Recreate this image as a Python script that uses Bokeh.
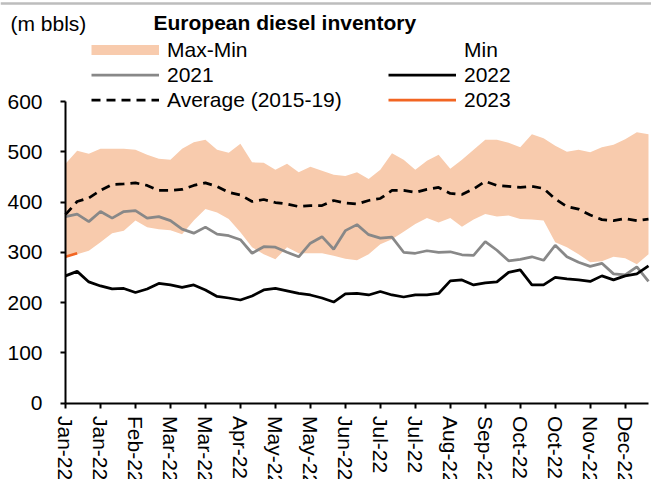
from bokeh.plotting import figure
from bokeh.models import (Range1d, FixedTicker, Legend, LegendItem, Label,
                          ColumnDataSource)
from bokeh.embed import file_html
from bokeh.resources import INLINE

# ---------------- data (weekly, 2022 calendar) ----------------
weeks = list(range(51))
tick_weeks = [0, 3, 6, 9, 12, 15, 18, 21, 24, 27, 30, 33, 36, 39, 42, 45, 48]
tick_labels = ["Jan-22", "Jan-22", "Feb-22", "Mar-22", "Mar-22", "Apr-22", "May-22",
               "May-22", "Jun-22", "Jul-22", "Jul-22", "Aug-22", "Sep-22", "Oct-22",
               "Oct-22", "Nov-22", "Dec-22"]
y_ticks = [0, 100, 200, 300, 400, 500, 600]

max_vals = [476, 502, 496, 506, 506, 506, 504, 494, 486, 484,
            506, 519, 524, 504, 498, 516, 479, 478, 464, 476,
            459, 470, 462, 454, 452, 459, 446, 464, 497, 484,
            464, 482, 494, 466, 484, 504, 524, 524, 518, 509,
            535, 527, 512, 500, 504, 499, 509, 514, 525, 539, 535]
min_vals = [293, 296, 303, 320, 338, 343, 363, 350, 346, 344,
            336, 363, 386, 379, 366, 340, 310, 296, 286, 310,
            298, 298, 298, 293, 287, 284, 296, 316, 326, 341,
            356, 368, 359, 368, 351, 365, 376, 371, 373, 366,
            365, 363, 320, 310, 296, 280, 282, 291, 288, 276, 296]
avg_vals = [375, 401, 408, 423, 435, 436, 438, 433, 423, 423,
            425, 433, 438, 431, 419, 414, 401, 405, 399, 396,
            391, 393, 393, 403, 398, 396, 403, 407, 423, 423,
            419, 425, 429, 417, 415, 426, 441, 433, 431, 429,
            431, 427, 406, 391, 386, 374, 365, 363, 367, 363, 366]
y2021 = [371, 376, 361, 381, 368, 381, 383, 368, 371, 363,
         346, 338, 350, 336, 333, 325, 298, 311, 310, 300,
         291, 318, 331, 306, 343, 355, 335, 328, 330, 300,
         298, 303, 300, 301, 295, 294, 321, 304, 283, 286,
         291, 284, 314, 291, 280, 272, 278, 257, 255, 271, 242]
y2022 = [253, 262, 241, 233, 227, 228, 220, 227, 238, 235,
         230, 235, 225, 212, 209, 205, 213, 225, 228, 223,
         218, 215, 209, 201, 217, 218, 215, 222, 215, 211,
         215, 215, 218, 243, 245, 235, 239, 241, 260, 265,
         235, 235, 250, 247, 245, 242, 253, 245, 253, 257, 273]
weeks_2023 = [0, 1]
y2023 = [291, 298]

FONT = "Liberation Sans"
BAND = "#F8CBAD"
GREY = "#888888"
ORANGE = "#F26522"
W, H = 651, 479

src = ColumnDataSource(dict(x=weeks, mx=max_vals, mn=min_vals, avg=avg_vals,
                            y21=y2021, y22=y2022))
src23 = ColumnDataSource(dict(x=weeks_2023, y=y2023))
nan = float("nan")
proxy_src = ColumnDataSource(dict(x=[nan], y=[nan]))

# frame fills the whole canvas; axes are pinned at x=0 / y=0 inside it
p = figure(width=W, height=H, output_backend="svg", toolbar_location=None,
           x_range=Range1d(-5.575, 50.257), y_range=Range1d(-152.2, 801.0),
           min_border=0, min_border_left=0, min_border_right=0,
           min_border_top=0, min_border_bottom=0)
p.outline_line_color = None
p.xgrid.visible = False
p.ygrid.visible = False
p.background_fill_color = "white"
p.border_fill_color = "white"

# thin grey rule along the top edge of the picture
p.hspan(y=[795.5], line_color="#BDBDBD", line_width=2.5)

p.varea(x="x", y1="mn", y2="mx", source=src, fill_color=BAND, fill_alpha=1.0)
r_avg = p.line("x", "avg", source=src, line_color="black", line_width=2.75, line_dash="9 6")
r21 = p.line("x", "y21", source=src, line_color=GREY, line_width=2.75)
r22 = p.line("x", "y22", source=src, line_color="black", line_width=2.75)
r23 = p.line("x", "y", source=src23, line_color=ORANGE, line_width=2.75)

# legend proxies (no visible data)
proxy_band = p.line("x", "y", source=proxy_src, line_color=BAND, line_width=10)
proxy_min = p.line("x", "y", source=proxy_src, line_color="white", line_alpha=0)

def make_legend(items, loc):
    return Legend(items=items, location=loc, orientation="vertical",
                  padding=0, margin=0, spacing=0, glyph_width=68, glyph_height=25,
                  label_height=25, label_standoff=8, label_text_font=FONT,
                  label_text_font_size="21px", label_text_color="black",
                  background_fill_alpha=0, border_line_alpha=0)

leg1 = make_legend([LegendItem(label="Max-Min", renderers=[proxy_band]),
                    LegendItem(label="2021", renderers=[r21]),
                    LegendItem(label="Average (2015-19)", renderers=[r_avg])], (91, 367))
leg2 = make_legend([LegendItem(label="Min", renderers=[proxy_min]),
                    LegendItem(label="2022", renderers=[r22]),
                    LegendItem(label="2023", renderers=[r23])], (388, 367))
p.add_layout(leg1)
p.add_layout(leg2)

p.add_layout(Label(x=10, y=456, x_units="screen", y_units="screen", text="(m bbls)",
                   text_font=FONT, text_font_size="21px", text_baseline="middle",
                   text_color="black"))
p.add_layout(Label(x=153, y=457, x_units="screen", y_units="screen",
                   text="European diesel inventory", text_font=FONT,
                   text_font_size="21px", text_font_style="bold", text_baseline="middle",
                   text_color="black"))

# axes
for ax in (p.xaxis[0], p.yaxis[0]):
    ax.fixed_location = 0
    ax.axis_line_color = "black"
    ax.axis_line_width = 2
    ax.major_tick_line_color = "black"
    ax.major_tick_line_width = 2
    ax.major_tick_out = 5
    ax.major_tick_in = 0
    ax.minor_tick_line_color = None
    ax.major_label_text_font = FONT
    ax.major_label_text_font_size = "21px"
    ax.major_label_text_color = "black"

p.xaxis.bounds = (0, 50)
p.xaxis.ticker = FixedTicker(ticks=tick_weeks)
p.xaxis.major_label_overrides = {w: lab for w, lab in zip(tick_weeks, tick_labels)}
p.xaxis.major_label_orientation = "vertical"
p.xaxis.major_label_standoff = 8
p.yaxis.bounds = (0, 600)
p.yaxis.ticker = FixedTicker(ticks=y_ticks)
p.yaxis.major_label_standoff = 18

open("out.html", "w").write(file_html(p, INLINE))
